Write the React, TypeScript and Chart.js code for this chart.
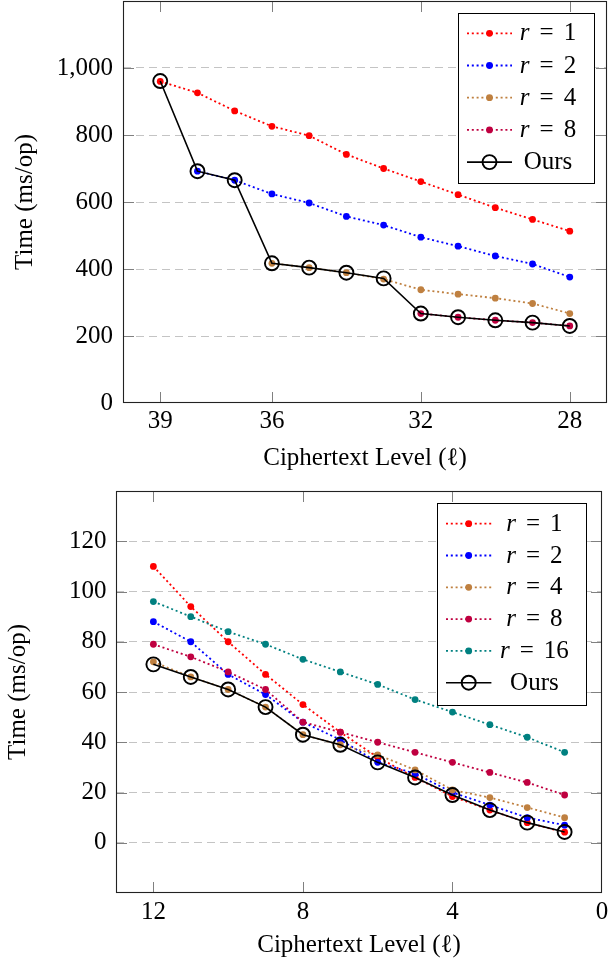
import React, { useEffect, useRef } from 'react';
import { Chart, registerables } from 'chart.js';

Chart.register(...registerables);

const FONT = '"Liberation Serif", "Times New Roman", serif';

// ---------- Top chart data ----------
const topLevels = [39, 38, 37, 36, 35, 34, 33, 32, 31, 30, 29, 28];
const topR1 = [960, 926, 872, 826, 798, 742, 700, 661, 622, 583, 548, 513];
const topR2 = [null, 692, 665, 624, 597, 557, 531, 495, 468, 439, 415, 376];
const topR4 = [null, null, null, 417, 404, 389, 370, 338, 325, 313, 297, 267];
const topR8 = [null, null, null, null, null, null, null, 267, 256, 247, 240, 230];
const topOurs = [961, 692, 665, 417, 404, 389, 372, 267, 256, 247, 240, 230];
const topXTicks = [39, 36, 32, 28];

// ---------- Bottom chart data ----------
const botLevels = [12, 11, 10, 9, 8, 7, 6, 5, 4, 3, 2, 1];
const botR1 = [110, 94, 80, 67, 55, 44, 34, 26, 18.4, 13, 8, 4.2];
const botR2 = [88, 80, 67, 59, 48, 41, 32, 27.5, 20, 15, 10, 7];
const botR4 = [72, 66, 61, 54, 43, 39, 35, 29, 21, 18, 14, 10];
const botR8 = [79, 74, 68, 61, 48, 44, 40, 36, 32, 28, 24, 19];
const botR16 = [96, 90, 84, 79, 73, 68, 63, 57, 52, 47, 42, 36];
const botOurs = [71, 66, 61, 54, 43, 39, 32, 26, 19, 13, 8, 4.3];
const botXTicks = [12, 8, 4, 0];

const COLORS = {
  r1: '#ff0000',
  r2: '#0000ff',
  r4: '#bf8040',
  r8: '#bf0040',
  r16: '#008080',
  ours: '#000000',
};

function pts(xs: number[], ys: (number | null)[]) {
  const out: { x: number; y: number }[] = [];
  xs.forEach((x, i) => {
    const y = ys[i];
    if (y !== null && y !== undefined) out.push({ x, y });
  });
  return out;
}

function dotted(label: string, color: string, data: any[], order: number) {
  return {
    label,
    data,
    borderColor: color,
    backgroundColor: color,
    borderWidth: 1.8,
    borderDash: [2, 2.8],
    pointRadius: 3.4,
    pointBorderWidth: 0,
    pointBackgroundColor: color,
    pointBorderColor: color,
    pointHoverRadius: 3.4,
    fill: false,
    tension: 0,
    order,
  };
}

function oursDs(data: any[]) {
  return {
    label: 'Ours',
    data,
    borderColor: '#000',
    backgroundColor: 'rgba(0,0,0,0)',
    borderWidth: 1.6,
    pointRadius: 7,
    pointBorderWidth: 1.9,
    pointBackgroundColor: 'rgba(0,0,0,0)',
    pointBorderColor: '#000',
    pointHoverRadius: 7,
    fill: false,
    tension: 0,
    order: 0,
  };
}

const frameTicksPlugin = {
  id: 'frameTicks',
  beforeDatasetsDraw(chart: any) {
    const { ctx, chartArea: a, scales } = chart;
    const xs = scales.x;
    const ys = scales.y;
    const L = 11;
    ctx.save();
    ctx.strokeStyle = '#808080';
    ctx.lineWidth = 1;
    ctx.setLineDash([]);
    ctx.beginPath();
    for (const t of ys.ticks) {
      if (t.value <= ys.min || t.value >= ys.max) continue;
      const y = Math.round(ys.getPixelForValue(t.value)) + 0.5;
      ctx.moveTo(a.left, y);
      ctx.lineTo(a.left + L, y);
      ctx.moveTo(a.right - L, y);
      ctx.lineTo(a.right, y);
    }
    for (const t of xs.ticks) {
      if (t.value <= xs.min || t.value >= xs.max) continue;
      const x = Math.round(xs.getPixelForValue(t.value)) + 0.5;
      ctx.moveTo(x, a.top);
      ctx.lineTo(x, a.top + L);
      ctx.moveTo(x, a.bottom - L);
      ctx.lineTo(x, a.bottom);
    }
    ctx.stroke();
    ctx.strokeStyle = '#222';
    ctx.lineWidth = 1.1;
    ctx.strokeRect(Math.round(a.left) + 0.5, Math.round(a.top) + 0.5, Math.round(a.width) - 1, Math.round(a.height) - 1);
    ctx.restore();
  },
};

function makeLegendPlugin(cfg: any) {
  return {
    id: 'boxLegend',
    afterDatasetsDraw(chart: any) {
      const { ctx, chartArea: a } = chart;
      const left = Math.round(a.right - cfg.right - cfg.width);
      const top = Math.round(a.top + cfg.top);
      ctx.save();
      ctx.fillStyle = '#fff';
      ctx.fillRect(left, top, cfg.width, cfg.height);
      ctx.strokeStyle = '#000';
      ctx.lineWidth = 1;
      ctx.setLineDash([]);
      ctx.strokeRect(left + 0.5, top + 0.5, cfg.width, cfg.height);
      chart.data.datasets.forEach((ds: any, i: number) => {
        const y = top + cfg.rowStart + i * cfg.rowStep;
        const x0 = left + cfg.lineX0;
        const x1 = left + cfg.lineX1;
        ctx.beginPath();
        ctx.setLineDash(ds.borderDash || []);
        ctx.strokeStyle = ds.borderColor;
        ctx.lineWidth = ds.borderWidth;
        ctx.moveTo(x0, y);
        ctx.lineTo(x1, y);
        ctx.stroke();
        ctx.setLineDash([]);
        const mx = (x0 + x1) / 2;
        ctx.beginPath();
        ctx.arc(mx, y, ds.pointRadius, 0, Math.PI * 2);
        if (ds.pointBorderWidth > 0) {
          ctx.lineWidth = ds.pointBorderWidth;
          ctx.strokeStyle = ds.pointBorderColor;
          ctx.stroke();
        } else {
          ctx.fillStyle = ds.pointBackgroundColor;
          ctx.fill();
        }
        const cx = left + cfg.textCenter;
        const base = y + 7;
        ctx.fillStyle = '#000';
        ctx.textBaseline = 'alphabetic';
        ctx.textAlign = 'left';
        const label: string = ds.label;
        if (label.startsWith('r = ')) {
          const num = label.slice(4);
          const fI = `italic 25px ${FONT}`;
          const fN = `25px ${FONT}`;
          ctx.font = fI;
          const wr = ctx.measureText('r').width;
          ctx.font = fN;
          const we = ctx.measureText('=').width;
          const wn = ctx.measureText(num).width;
          const gap = 10;
          const total = wr + gap + we + gap + wn;
          let x = cx - total / 2;
          ctx.font = fI;
          ctx.fillText('r', x, base);
          x += wr + gap;
          ctx.font = fN;
          ctx.fillText('=', x, base);
          x += we + gap;
          ctx.fillText(num, x, base);
        } else {
          ctx.font = `25px ${FONT}`;
          ctx.textAlign = 'center';
          ctx.fillText(label, cx, base);
        }
      });
      ctx.restore();
    },
  };
}

function zeroPad(s: any) {
  s.paddingLeft = 0;
  s.paddingRight = 0;
  s.paddingTop = 0;
  s.paddingBottom = 0;
}

function buildConfig(opts: any) {
  const { datasets, xMin, xMax, xTicks, yMin, yMax, yStep, yWidth, xHeight, padding, xTickPad, yTickPad, xTitlePad, yTitlePad, legend, fmt } = opts;
  return {
    type: 'line',
    data: { datasets },
    plugins: [frameTicksPlugin, makeLegendPlugin(legend)],
    options: {
      responsive: false,
      animation: false,
      events: [],
      layout: { padding, autoPadding: false },
      plugins: { legend: { display: false }, tooltip: { enabled: false } },
      scales: {
        x: {
          type: 'linear',
          reverse: true,
          min: xMin,
          max: xMax,
          afterBuildTicks: (s: any) => {
            s.ticks = xTicks.map((v: number) => ({ value: v }));
          },
          afterFit: (s: any) => {
            s.height = xHeight;
            zeroPad(s);
          },
          grid: { display: false, drawTicks: false },
          border: { display: false },
          ticks: {
            padding: xTickPad,
            color: '#000',
            maxRotation: 0,
            autoSkip: false,
            font: { family: FONT, size: 25 },
            callback: (v: any) => String(v),
          },
          title: {
            display: true,
            text: 'Ciphertext Level (ℓ)',
            color: '#000',
            font: { family: FONT, size: 25 },
            padding: { top: 0, bottom: xTitlePad },
          },
        },
        y: {
          type: 'linear',
          min: yMin,
          max: yMax,
          afterFit: (s: any) => {
            s.width = yWidth;
            zeroPad(s);
          },
          grid: {
            drawTicks: false,
            lineWidth: 1,
            color: (c: any) => {
              const v = c.tick ? c.tick.value : null;
              return v === yMin || v === yMax ? 'rgba(0,0,0,0)' : '#c4c4c4';
            },
          },
          border: { display: false, dash: [8, 5] },
          ticks: {
            stepSize: yStep,
            padding: yTickPad,
            color: '#000',
            autoSkip: false,
            font: { family: FONT, size: 25 },
            callback: (v: any) => (v === yMax || v < 0 ? '' : fmt(v)),
          },
          title: {
            display: true,
            text: 'Time (ms/op)',
            color: '#000',
            font: { family: FONT, size: 25 },
            padding: { top: yTitlePad, bottom: 0 },
          },
        },
      },
    },
  };
}

function topConfig() {
  return buildConfig({
    datasets: [
      dotted('r = 1', COLORS.r1, pts(topLevels, topR1), 5),
      dotted('r = 2', COLORS.r2, pts(topLevels, topR2), 4),
      dotted('r = 4', COLORS.r4, pts(topLevels, topR4), 3),
      dotted('r = 8', COLORS.r8, pts(topLevels, topR8), 2),
      oursDs(pts(topLevels, topOurs)),
    ],
    xMin: 27,
    xMax: 40,
    xTicks: topXTicks,
    yMin: 0,
    yMax: 1200,
    yStep: 200,
    yWidth: 123,
    xHeight: 84,
    padding: { top: 1, right: 1, left: 0, bottom: 0 },
    xTickPad: 3,
    yTickPad: 10,
    xTitlePad: 14,
    yTitlePad: 10,
    fmt: (v: number) => v.toLocaleString('en-US'),
    legend: { right: 13, top: 12, width: 136, height: 170, rowStart: 20.3, rowStep: 32.2, lineX0: 9, lineX1: 54, textCenter: 90 },
  });
}

function bottomConfig() {
  return buildConfig({
    datasets: [
      dotted('r = 1', COLORS.r1, pts(botLevels, botR1), 5),
      dotted('r = 2', COLORS.r2, pts(botLevels, botR2), 4),
      dotted('r = 4', COLORS.r4, pts(botLevels, botR4), 3),
      dotted('r = 8', COLORS.r8, pts(botLevels, botR8), 2),
      dotted('r = 16', COLORS.r16, pts(botLevels, botR16), 1),
      oursDs(pts(botLevels, botOurs)),
    ],
    xMin: 0,
    xMax: 13,
    xTicks: botXTicks,
    yMin: -20,
    yMax: 140,
    yStep: 20,
    yWidth: 116,
    xHeight: 81,
    padding: { top: 4, right: 6, left: 0, bottom: 0 },
    xTickPad: 4.5,
    yTickPad: 9.5,
    xTitlePad: 13.5,
    yTitlePad: 3.5,
    fmt: (v: number) => String(v),
    legend: { right: 16, top: 12.3, width: 149, height: 202, rowStart: 20.7, rowStep: 31.8, lineX0: 9, lineX1: 54.4, textCenter: 97.4 },
  });
}

function ChartCanvas({ make, top }: { make: () => any; top: number }) {
  const ref = useRef<HTMLCanvasElement | null>(null);
  useEffect(() => {
    if (!ref.current) return;
    const chart = new Chart(ref.current, make());
    return () => chart.destroy();
  }, []);
  return (
    <canvas
      ref={ref}
      width={608}
      height={487}
      style={{ position: 'absolute', left: 0, top, width: 608, height: 487, display: 'block' }}
    />
  );
}

export default function App() {
  return (
    <div style={{ position: 'absolute', left: 0, top: 0, width: 608, height: 974, background: '#fff', overflow: 'hidden' }}>
      <ChartCanvas make={topConfig} top={0} />
      <ChartCanvas make={bottomConfig} top={487} />
    </div>
  );
}
